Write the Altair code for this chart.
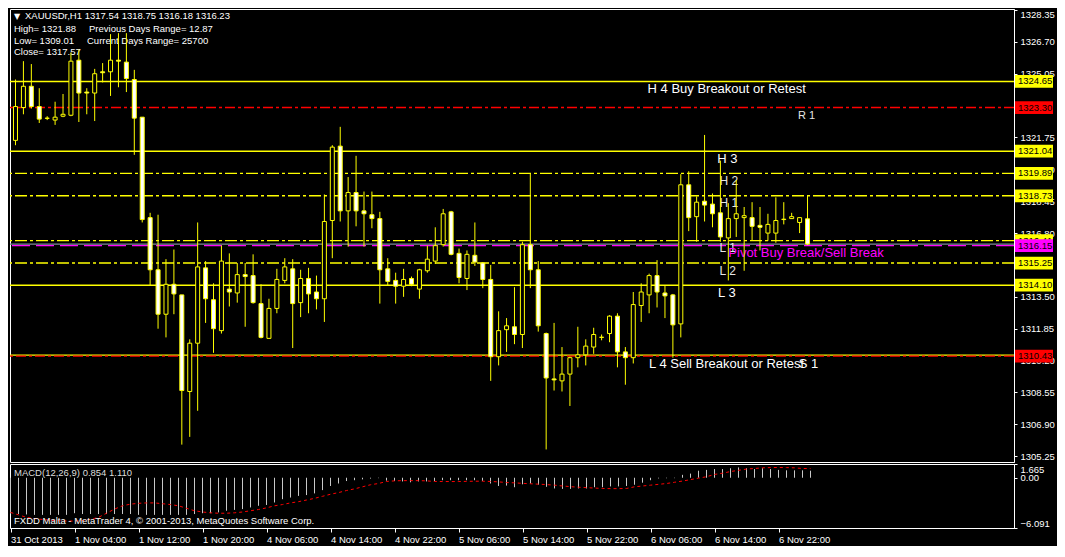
import json
import altair as alt
import pandas as pd

# ---------------- data ----------------
opens = [
    1321.60, 1323.30, 1324.40, 1323.35, 1322.75, 1322.65, 1322.85, 1322.90, 1325.75, 1324.10,
    1324.05, 1325.15, 1325.15, 1325.75, 1325.65, 1324.75, 1322.80, 1317.60, 1314.90, 1312.60,
    1314.15, 1313.60, 1308.60, 1311.10, 1315.00, 1313.35, 1311.75, 1313.90, 1313.70, 1314.65,
    1314.60, 1313.15, 1311.35, 1312.90, 1314.35, 1314.95, 1313.20, 1314.45, 1313.75, 1313.40,
    1317.45, 1321.30, 1317.95, 1318.90, 1317.95, 1317.75, 1317.55, 1314.95, 1314.35, 1314.05,
    1314.45, 1313.90, 1314.85, 1315.35, 1316.20, 1317.90, 1315.75, 1314.45, 1315.65, 1315.25,
    1314.40, 1310.40, 1311.80, 1311.95, 1311.55, 1316.20, 1314.90, 1311.60, 1309.25, 1309.15,
    1309.50, 1310.35, 1310.50, 1310.90, 1311.40, 1311.60, 1312.50, 1310.65, 1310.35, 1313.05,
    1313.60, 1314.60, 1313.70, 1313.60, 1312.10, 1319.30, 1317.65, 1318.45, 1318.30, 1317.85,
    1316.55, 1317.55, 1317.60, 1317.60, 1317.20, 1316.80, 1316.80, 1317.50, 1317.55, 1317.35,
    1317.54]
highs = [
    1324.75, 1325.70, 1325.55, 1324.30, 1322.85, 1323.60, 1324.00, 1326.15, 1326.30, 1324.30,
    1325.30, 1325.60, 1327.10, 1327.15, 1327.15, 1325.25, 1322.80, 1317.85, 1317.75, 1315.45,
    1315.95, 1313.60, 1311.30, 1317.35, 1315.35, 1314.20, 1316.15, 1315.75, 1315.25, 1315.25,
    1315.70, 1314.15, 1313.40, 1314.95, 1315.50, 1315.45, 1314.90, 1315.00, 1314.60, 1318.80,
    1321.35, 1322.30, 1319.70, 1320.80, 1318.95, 1318.95, 1317.90, 1315.50, 1314.75, 1314.95,
    1314.55, 1314.95, 1316.15, 1317.10, 1318.05, 1317.95, 1316.00, 1315.90, 1317.35, 1315.30,
    1315.15, 1312.75, 1312.40, 1314.00, 1316.35, 1319.90, 1315.35, 1311.65, 1312.15, 1310.90,
    1310.40, 1311.95, 1311.30, 1311.90, 1311.55, 1312.55, 1312.65, 1310.90, 1313.75, 1314.20,
    1314.70, 1315.40, 1314.10, 1313.65, 1319.85, 1320.00, 1318.70, 1321.88, 1318.85, 1320.55,
    1318.35, 1319.55, 1318.15, 1318.40, 1318.15, 1317.80, 1318.65, 1318.40, 1317.85, 1317.60,
    1318.75]
lows = [
    1321.35, 1322.95, 1323.25, 1322.50, 1322.65, 1322.40, 1322.80, 1322.85, 1322.55, 1322.95,
    1322.60, 1324.60, 1323.90, 1324.35, 1324.10, 1320.85, 1317.35, 1314.10, 1311.85, 1311.40,
    1312.60, 1305.85, 1306.25, 1307.60, 1312.15, 1310.60, 1311.60, 1313.00, 1313.20, 1311.95,
    1313.15, 1311.35, 1311.35, 1312.65, 1314.20, 1310.85, 1312.45, 1312.65, 1312.85, 1312.20,
    1315.50, 1317.40, 1316.10, 1317.15, 1316.10, 1317.05, 1313.15, 1314.10, 1313.15, 1313.50,
    1314.05, 1313.40, 1314.75, 1315.20, 1316.10, 1315.65, 1314.20, 1313.85, 1315.10, 1313.95,
    1309.15, 1309.95, 1310.65, 1311.05, 1310.85, 1313.95, 1311.70, 1305.60, 1308.65, 1308.60,
    1307.85, 1309.85, 1309.95, 1310.55, 1311.25, 1311.15, 1309.85, 1308.95, 1310.05, 1312.20,
    1312.65, 1312.95, 1312.40, 1310.35, 1311.40, 1316.90, 1316.35, 1317.40, 1317.10, 1316.35,
    1314.35, 1316.60, 1314.85, 1316.40, 1315.90, 1316.40, 1316.30, 1317.25, 1317.55, 1316.80,
    1316.18]
closes = [
    1323.35, 1324.40, 1323.35, 1322.70, 1322.74, 1322.80, 1322.95, 1325.70, 1324.05, 1324.05,
    1325.05, 1325.10, 1325.75, 1325.70, 1324.80, 1322.75, 1317.50, 1314.90, 1312.60, 1314.15,
    1313.65, 1308.65, 1311.10, 1315.05, 1313.40, 1311.85, 1315.35, 1313.75, 1314.65, 1314.55,
    1313.20, 1311.40, 1312.90, 1314.40, 1315.05, 1313.15, 1314.45, 1313.65, 1313.40, 1317.40,
    1321.25, 1317.95, 1318.90, 1317.95, 1317.80, 1317.55, 1314.90, 1314.30, 1314.05, 1314.40,
    1314.15, 1314.90, 1315.45, 1316.15, 1317.80, 1315.70, 1314.50, 1315.70, 1315.30, 1314.40,
    1310.40, 1311.75, 1312.00, 1311.55, 1316.20, 1314.90, 1312.00, 1309.30, 1309.20, 1309.50,
    1310.35, 1310.50, 1310.95, 1311.55, 1311.41, 1312.50, 1310.65, 1310.35, 1313.10, 1313.75,
    1314.60, 1313.75, 1313.55, 1312.05, 1319.30, 1317.60, 1318.40, 1318.25, 1317.80, 1316.60,
    1317.55, 1317.80, 1317.70, 1317.15, 1317.10, 1317.25, 1317.45, 1317.52, 1317.65, 1317.60,
    1316.23]

macd_main = [
    -4.40, -4.40, -4.45, -4.50, -4.50, -4.50, -4.50, -4.50, -4.30, -4.40,
    -4.40, -4.40, -4.40, -4.40, -4.40, -4.40, -4.50, -4.50, -4.50, -4.50,
    -4.50, -4.50, -4.50, -4.40, -4.30, -4.30, -4.20, -4.00, -3.90, -3.80,
    -3.60, -3.40, -3.30, -3.00, -2.60, -2.40, -2.20, -2.10, -1.90, -1.50,
    -1.00, -0.70, -0.40, -0.30, -0.20, -0.10, -0.05, -0.35, -0.40, -0.45,
    -0.55, -0.45, -0.45, -0.40, -0.30, -0.30, -0.30, -0.30, -0.30, -0.38,
    -0.70, -1.00, -0.95, -1.15, -0.80, -0.70, -0.85, -1.10, -1.30, -1.35,
    -1.35, -1.30, -1.30, -1.15, -1.15, -1.05, -1.05, -1.00, -0.85, -0.60,
    -0.30, -0.08, -0.06, -0.05, 0.35, 0.50, 0.85, 0.95, 1.05, 1.05,
    1.15, 1.25, 1.15, 1.05, 1.15, 1.05, 0.95, 0.90, 0.90, 0.90,
    0.854]
macd_signal = [
    -4.20, -4.50, -4.80, -4.95, -5.05, -5.15, -5.20, -5.25, -5.25, -5.20,
    -5.05, -4.80, -4.30, -3.80, -3.40, -3.20, -3.10, -3.05, -3.05, -3.15,
    -3.25, -3.40, -3.70, -4.00, -4.15, -4.25, -4.30, -4.30, -4.25, -4.15,
    -4.00, -3.85, -3.65, -3.40, -3.25, -3.05, -2.90, -2.70, -2.50, -2.25,
    -2.00, -1.80, -1.55, -1.35, -1.10, -0.85, -0.70, -0.45, -0.38, -0.35,
    -0.35, -0.35, -0.38, -0.45, -0.46, -0.46, -0.46, -0.44, -0.42, -0.42,
    -0.45, -0.50, -0.58, -0.62, -0.68, -0.73, -0.78, -0.83, -0.90, -1.00,
    -1.08, -1.15, -1.20, -1.25, -1.30, -1.32, -1.32, -1.30, -1.10, -1.00,
    -0.90, -0.80, -0.70, -0.55, -0.40, -0.23, -0.05, 0.12, 0.40, 0.55,
    0.75, 0.90, 1.05, 1.12, 1.20, 1.23, 1.24, 1.23, 1.20, 1.12,
    1.11]

date_ticks = [0, 8, 16, 24, 32, 40, 48, 56, 64, 72, 80, 88, 96]
date_labels = ["31 Oct 2013", "1 Nov 04:00", "1 Nov 12:00", "1 Nov 20:00", "4 Nov 06:00",
               "4 Nov 14:00", "4 Nov 22:00", "5 Nov 06:00", "5 Nov 14:00", "5 Nov 22:00",
               "6 Nov 06:00", "6 Nov 14:00", "6 Nov 22:00"]
# grid prices whose labels can be seen (1315.15 and 1323.40 sit fully under price tags)
price_ticks = [1305.25, 1306.90, 1308.55, 1310.20, 1311.85, 1313.50, 1316.80,
               1318.45, 1320.10, 1321.75, 1325.05, 1326.70, 1328.35]
macd_ticks = [1.665, 0.0, -6.091]

# horizontal levels
solid_yellow_levels = [1324.65, 1321.04, 1314.10, 1310.48]
dashdot_yellow_levels = [1319.89, 1318.73, 1316.41, 1315.25]
dashdot_red_levels = [1323.30, 1310.43]
pivot_levels = [1316.15]
bid_levels = [1316.23]

# price tags on the right axis
yellow_tags = [1324.65, 1321.04, 1319.89, 1318.73, 1316.41, 1315.25, 1314.10]
red_tags = [1323.30, 1310.43]
magenta_tags = [1316.15]

# level captions (bar index, price, text)
big_texts = ["H 4 Buy Breakout or Retest", "H 3", "L 3", "L 4 Sell Breakout or Retest", "S 1"]
big_k = [79.8, 88.6, 88.7, 80.0, 98.9]
big_p = [1324.65, 1321.04, 1314.10, 1310.43, 1310.43]
small_texts = ["H 2", "H 1", "L 1", "L 2"]
small_k = [88.9, 88.9, 88.9, 88.9]
small_p = [1319.89, 1318.73, 1316.41, 1315.25]
r1_texts = ["R 1"]
r1_k = [98.8]
r1_p = [1323.30]
pivot_texts = ["Pivot Buy Break/Sell Break"]
pivot_k = [90.0]
pivot_p = [1316.15]

header_symbol = "XAUUSDr,H1  1317.54 1318.75 1316.18 1316.23"
header_high = "High= 1321.88"
header_prev = "Previous Days Range= 12.87"
header_low = "Low= 1309.01"
header_curr = "Current Days Range= 25700"
header_close = "Close= 1317.57"
macd_title = "MACD(12,26,9) 0.854 1.110"
copyright_text = "FXDD Malta - MetaTrader 4, \u00a9 2001-2013, MetaQuotes Software Corp."

# ---------------- styling ----------------
YELLOW = "#FFFF00"
RED = "#FF0000"
MAGENTA = "#FF00FF"
WHITE = "#FFFFFF"
BID = "#7F8A99"
HIST = "#C8C8C8"
FONT = "Liberation Sans"
LW = 1.4

W, H1, H2 = 1004, 453, 64
STEP = 8.0
K0 = -0.0625
xscale = alt.Scale(domain=[K0, K0 + W / STEP], nice=False, zero=False)
pscale = alt.Scale(domain=[1304.95, 1328.40], nice=False, zero=False)
mscale = alt.Scale(domain=[-6.091, 1.665], nice=False, zero=False)

yax = alt.Axis(orient="right", values=price_ticks, format=".2f", title=None,
               labelFlush=True, labelOverlap=False, tickSize=3, labelPadding=3, grid=False)


def PY(field):
    return alt.Y(field, type="quantitative", scale=pscale, axis=yax)


XK = alt.X("k:Q", scale=xscale, axis=None)

cd = pd.DataFrame({"k": list(range(len(opens))), "o": opens, "h": highs, "l": lows, "c": closes})


def level_layer(values, color, dash=None):
    kw = dict(color=color, strokeWidth=LW)
    if dash:
        kw["strokeDash"] = dash
    return alt.Chart(pd.DataFrame({"p": values})).mark_rule(**kw).encode(y=PY("p"))


def caption_layer(texts, ks, ps, color, size):
    df = pd.DataFrame({"t": texts, "k": ks, "p": ps})
    return alt.Chart(df).mark_text(align="left", baseline="alphabetic", dy=11.5, font=FONT,
                                   fontSize=size, color=color).encode(x=XK, y=PY("p"), text="t:N")


def header_layer(text, x, y, size=9.5, color=WHITE, font=FONT):
    return alt.Chart(pd.DataFrame({"t": [text]})).mark_text(
        align="left", baseline="alphabetic", font=font, fontSize=size, color=color
    ).encode(x=alt.value(x), y=alt.value(y), text="t:N")


def tag_layers(values, color):
    df = pd.DataFrame({"p": values})
    box = alt.Chart(df).transform_calculate(top="datum.p + 0.33", bot="datum.p - 0.33").mark_rect(
        color=color).encode(x=alt.value(W + 1), x2=alt.value(W + 39), y=PY("top"), y2="bot")
    txt = alt.Chart(df).mark_text(align="left", baseline="middle", font=FONT, fontSize=9.5,
                                  color="#000000").encode(
        x=alt.value(W + 4), y=PY("p"), text=alt.Text("p:Q", format=".2f"))
    return [box, txt]


wicks = alt.Chart(cd).mark_rule(color=YELLOW, strokeWidth=1, clip=True).encode(
    x=XK, y=PY("l"), y2="h")
bull = alt.Chart(cd).transform_filter("datum.c >= datum.o").mark_bar(
    size=4, fill="#000000", stroke=YELLOW, strokeWidth=1, clip=True).encode(x=XK, y=PY("o"), y2="c")
bear = alt.Chart(cd).transform_filter("datum.c < datum.o").mark_bar(
    size=4, fill=WHITE, stroke=YELLOW, strokeWidth=1, clip=True).encode(x=XK, y=PY("o"), y2="c")

main_layers = [
    level_layer(solid_yellow_levels, YELLOW),
    level_layer(dashdot_yellow_levels, YELLOW, [12, 3, 3, 3]),
    level_layer(bid_levels, BID),
    level_layer(pivot_levels, MAGENTA, [18, 6]),
    level_layer(dashdot_red_levels, RED, [10, 3, 3, 3]),
    caption_layer(big_texts, big_k, big_p, WHITE, 13),
    caption_layer(small_texts, small_k, small_p, "#E6E6E6", 12),
    caption_layer(r1_texts, r1_k, r1_p, "#E6E6E6", 11),
    caption_layer(pivot_texts, pivot_k, pivot_p, MAGENTA, 13),
    header_layer("\u25bc", 4, 10, size=8, font="DejaVu Sans"),
    header_layer(header_symbol, 15, 10),
    header_layer(header_high, 4, 22.5),
    header_layer(header_prev, 79, 22.5),
    header_layer(header_low, 4, 34.5),
    header_layer(header_curr, 77, 34.5),
    header_layer(header_close, 4, 46),
    wicks, bull, bear,
]
main_layers += tag_layers(yellow_tags, YELLOW)
main_layers += tag_layers(red_tags, RED)
main_layers += tag_layers(magenta_tags, MAGENTA)

main = alt.layer(*main_layers).properties(width=W, height=H1)

# ---------------- MACD panel ----------------
md = pd.DataFrame({"k": list(range(len(macd_main))), "m": macd_main, "s": macd_signal})
xax = alt.Axis(values=date_ticks,
               labelExpr=json.dumps(date_labels) + "[round(datum.value / 8)]",
               labelAlign="left", labelFlush=False, labelOverlap=False, tickSize=4,
               labelPadding=2, title=None, grid=False)
XM = alt.X("k:Q", scale=xscale, axis=xax)
max_ = alt.Axis(orient="right", values=macd_ticks,
                labelExpr="datum.value == 0 ? '0.00' : format(datum.value, '.3f')",
                labelFlush=True, labelOverlap=False, tickSize=3, labelPadding=3,
                title=None, grid=False)


def MY(field):
    return alt.Y(field, type="quantitative", scale=mscale, axis=max_)


hist = alt.Chart(md).mark_rule(color=HIST, strokeWidth=1, clip=True).encode(
    x=XM, y=MY("m"), y2=alt.datum(0))
sig = alt.Chart(md).mark_line(color=RED, strokeWidth=1, strokeDash=[3, 3], clip=True).encode(
    x=XM, y=MY("s"))

macd = alt.layer(
    hist, sig,
    header_layer(macd_title, 4, 11.5, color="#DDDDDD"),
    header_layer(copyright_text, 4, 60),
).properties(width=W, height=H2)

chart = alt.vconcat(main, macd, spacing=0).resolve_scale(
    x="independent", y="independent"
).properties(
    background="#000000", padding={"left": 0, "top": 0, "right": 2, "bottom": 2}
).configure_view(
    stroke=WHITE, strokeWidth=1
).configure_axis(
    labelColor=WHITE, tickColor=WHITE, domainColor=WHITE, labelFont=FONT,
    labelFontSize=9.5, domainWidth=1, tickWidth=1
)

chart.save("out.html", embed_options={"renderer": "svg", "actions": False})
